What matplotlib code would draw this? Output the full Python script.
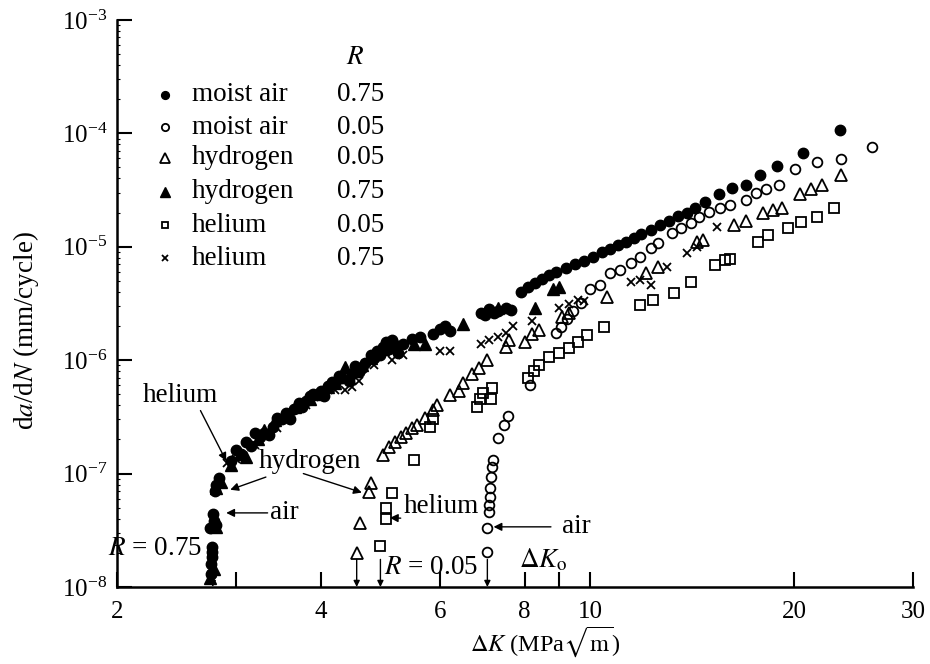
import matplotlib
matplotlib.use("Agg")
import matplotlib.pyplot as plt
from matplotlib.ticker import NullLocator, LogLocator

plt.rcParams['font.family'] = 'serif'
plt.rcParams['font.serif'] = ['Liberation Serif', 'DejaVu Serif']
plt.rcParams['mathtext.fontset'] = 'stix'

# (delta K in MPa sqrt(m), da/dN in mm/cycle)
air75 = [(2.75, 1.3e-8), (2.75, 1.6e-8), (2.76, 1.85e-8), (2.76, 2.05e-8), (2.76, 2.25e-8),
         (2.74, 3.3e-8), (2.78, 3.8e-8), (2.77, 4.4e-8), (2.80, 3.5e-8), (2.79, 7.0e-8),
         (2.80, 8.0e-8), (2.83, 9.2e-8),
         (2.95, 1.3e-7), (3.0, 1.6e-7), (3.05, 1.5e-7), (3.1, 1.9e-7), (3.15, 1.75e-7),
         (3.2, 2.3e-7), (3.25, 2.1e-7), (3.30, 2.3e-7), (3.35, 2.2e-7), (3.40, 2.6e-7),
         (3.45, 3.1e-7), (3.50, 3.0e-7), (3.55, 3.4e-7), (3.6, 3.0e-7), (3.65, 3.7e-7),
         (3.72, 4.2e-7), (3.75, 3.9e-7), (3.80, 4.4e-7), (3.85, 4.8e-7), (3.90, 5.0e-7),
         (4.00, 5.3e-7), (4.05, 4.8e-7), (4.10, 5.9e-7), (4.15, 6.4e-7), (4.20, 6.3e-7),
         (4.25, 7.2e-7), (4.30, 7.0e-7), (4.4, 6.5e-7), (4.45, 7.6e-7), (4.50, 8.8e-7),
         (4.55, 7.8e-7), (4.60, 8.5e-7), (4.65, 9.5e-7), (4.75, 1.1e-6), (4.80, 1.05e-6),
         (4.85, 1.2e-6), (4.9, 1.1e-6), (4.95, 1.3e-6), (5.0, 1.45e-6), (5.05, 1.25e-6),
         (5.1, 1.5e-6), (5.15, 1.35e-6), (5.2, 1.15e-6), (5.30, 1.4e-6), (5.45, 1.55e-6),
         (5.6, 1.6e-6),
         (5.85, 1.7e-6), (6.00, 1.9e-6), (6.10, 2.0e-6), (6.20, 1.8e-6), (6.90, 2.6e-6),
         (7.0, 2.5e-6), (7.10, 2.8e-6), (7.2, 2.6e-6), (7.30, 2.7e-6), (7.50, 2.9e-6),
         (7.65, 2.75e-6),
         (7.90, 4.0e-6), (8.10, 4.4e-6), (8.30, 4.8e-6), (8.50, 5.2e-6), (8.70, 5.6e-6),
         (8.90, 6.0e-6), (9.20, 6.5e-6), (9.50, 7.0e-6), (9.80, 7.5e-6), (10.1, 8.2e-6),
         (10.4, 8.9e-6), (10.7, 9.6e-6), (11.0, 1.03e-5), (11.3, 1.1e-5), (11.6, 1.2e-5),
         (11.9, 1.3e-5), (12.3, 1.4e-5), (12.7, 1.55e-5), (13.1, 1.7e-5), (13.5, 1.85e-5),
         (13.9, 2.0e-5), (14.3, 2.2e-5), (14.8, 2.5e-5),
         (15.5, 2.9e-5), (16.2, 3.3e-5), (17.0, 3.5e-5), (17.8, 4.3e-5), (18.9, 5.1e-5),
         (20.6, 6.7e-5), (23.4, 1.07e-4)]

air05 = [(7.05, 2.05e-8), (7.05, 3.3e-8), (7.1, 4.6e-8), (7.1, 5.3e-8), (7.12, 6.2e-8),
         (7.12, 7.5e-8), (7.15, 9.3e-8), (7.17, 1.14e-7), (7.18, 1.32e-7), (7.3, 2.06e-7),
         (7.45, 2.7e-7), (7.55, 3.2e-7), (8.15, 6.0e-7), (8.9, 1.75e-6), (9.05, 1.95e-6),
         (9.25, 2.3e-6), (9.45, 2.7e-6), (9.7, 3.2e-6), (10.0, 4.2e-6), (10.34, 4.6e-6),
         (10.7, 5.9e-6), (11.07, 6.2e-6), (11.5, 7.2e-6), (11.85, 8.1e-6), (12.3, 9.8e-6),
         (12.6, 1.08e-5), (13.2, 1.32e-5), (13.6, 1.47e-5), (14.1, 1.62e-5), (14.5, 1.83e-5),
         (15.0, 2.03e-5), (15.55, 2.2e-5), (16.1, 2.34e-5), (17.0, 2.6e-5), (17.6, 3.0e-5),
         (18.2, 3.2e-5), (19.0, 3.5e-5), (20.1, 4.8e-5), (21.6, 5.6e-5), (23.5, 5.9e-5),
         (26.1, 7.6e-5)]

hyd05 = [(4.52, 2.0e-8), (4.57, 3.7e-8), (4.72, 6.9e-8), (4.74, 8.3e-8), (4.95, 1.45e-7),
         (5.05, 1.7e-7), (5.15, 1.9e-7), (5.25, 2.1e-7), (5.35, 2.3e-7), (5.45, 2.5e-7),
         (5.55, 2.7e-7), (5.7, 3.1e-7), (5.85, 3.6e-7), (5.95, 4.0e-7), (6.2, 4.9e-7),
         (6.4, 5.4e-7), (6.5, 6.3e-7), (6.7, 7.5e-7), (6.85, 8.6e-7), (7.05, 1.0e-6),
         (7.5, 1.3e-6), (7.6, 1.5e-6), (8.0, 1.45e-6), (8.2, 1.7e-6), (8.4, 1.86e-6),
         (9.1, 2.4e-6), (9.3, 2.6e-6), (10.6, 3.6e-6), (12.1, 5.9e-6), (12.6, 6.6e-6),
         (14.4, 1.1e-5), (14.7, 1.15e-5), (16.3, 1.55e-5), (17.0, 1.7e-5), (18.0, 2.0e-5),
         (18.6, 2.1e-5), (19.2, 2.2e-5), (20.4, 2.9e-5), (21.2, 3.2e-5), (22.0, 3.5e-5),
         (23.5, 4.3e-5)]

hyd75 = [(2.74, 1.2e-8), (2.78, 1.45e-8), (2.8, 3.4e-8), (2.8, 7.5e-8), (2.85, 8.5e-8),
         (2.95, 1.2e-7), (3.04, 1.5e-7), (3.1, 1.4e-7), (3.23, 2.0e-7), (3.3, 2.4e-7),
         (3.42, 2.95e-7), (3.55, 3.3e-7), (3.67, 3.9e-7), (3.86, 4.5e-7), (3.95, 5.0e-7),
         (4.1, 5.8e-7), (4.2, 6.3e-7), (4.35, 8.7e-7), (4.6, 9.0e-7), (4.75, 1.05e-6),
         (4.95, 1.25e-6), (5.5, 1.4e-6), (5.7, 1.4e-6), (6.5, 2.1e-6), (7.3, 2.9e-6),
         (8.3, 2.9e-6), (8.8, 4.2e-6), (9.0, 4.4e-6)]

he05 = [(4.9, 2.3e-8), (5.0, 4.0e-8), (5.0, 5.0e-8), (5.1, 6.8e-8), (5.5, 1.32e-7),
        (5.8, 2.6e-7), (5.85, 3.0e-7), (6.8, 3.9e-7), (6.87, 4.5e-7), (6.95, 5.1e-7),
        (7.15, 4.5e-7), (7.17, 5.7e-7), (8.1, 7.0e-7), (8.25, 8.0e-7), (8.4, 9.0e-7),
        (8.7, 1.07e-6), (9.0, 1.16e-6), (9.3, 1.28e-6), (9.6, 1.45e-6), (9.9, 1.66e-6),
        (10.5, 1.96e-6), (11.85, 3.07e-6), (12.4, 3.4e-6), (13.3, 3.9e-6), (14.1, 4.9e-6),
        (15.3, 6.9e-6), (15.8, 7.7e-6), (16.1, 7.8e-6), (17.7, 1.1e-5), (18.3, 1.27e-5),
        (19.6, 1.47e-5), (20.5, 1.66e-5), (21.6, 1.83e-5), (22.9, 2.2e-5)]

he75 = [(2.76, 1.3e-8), (2.91, 1.24e-7), (3.0, 1.35e-7), (3.2, 1.8e-7), (3.45, 2.5e-7),
        (3.6, 3.1e-7), (3.8, 4.0e-7), (4.0, 4.7e-7), (4.2, 5.5e-7), (4.35, 5.5e-7),
        (4.45, 5.8e-7), (4.55, 6.5e-7), (4.8, 9.0e-7), (5.1, 1.0e-6), (5.3, 1.1e-6),
        (6.0, 1.2e-6), (6.2, 1.2e-6), (6.9, 1.4e-6), (7.1, 1.5e-6), (7.3, 1.6e-6),
        (7.5, 1.75e-6), (7.7, 2.0e-6), (8.2, 2.2e-6), (9.0, 2.9e-6), (9.3, 3.1e-6),
        (9.6, 3.4e-6), (9.8, 3.3e-6), (11.5, 4.9e-6), (11.85, 5.1e-6), (12.3, 4.6e-6),
        (13.0, 6.6e-6), (13.9, 8.8e-6), (14.4, 1.0e-5), (15.4, 1.48e-5)]

thresholds = [2.77, 4.52, 4.9, 7.05]

series = [
    ('moist air', '0.75', air75, dict(marker='o', ms=7.5, mfc='black', mec='black')),
    ('moist air', '0.05', air05, dict(marker='o', ms=7, mfc='none', mec='black', mew=1.3)),
    ('hydrogen', '0.05', hyd05, dict(marker='^', ms=9, mfc='none', mec='black', mew=1.3)),
    ('hydrogen', '0.75', hyd75, dict(marker='^', ms=9, mfc='black', mec='black')),
    ('helium', '0.05', he05, dict(marker='s', ms=6.5, mfc='none', mec='black', mew=1.3)),
    ('helium', '0.75', he75, dict(marker='x', ms=6, mec='black', mew=1.3)),
]

fs = 19.5

fig = plt.figure(figsize=(9.3, 6.64), dpi=100)
ax = fig.add_axes([0.1258, 0.116, 0.856, 0.854])
ax.set_xscale('log')
ax.set_yscale('log')
ax.set_xlim(2, 30)
ax.set_ylim(1e-8, 1e-3)

for name, r, pts, style in series:
    ks = [p[0] for p in pts]
    rates = [p[1] for p in pts]
    ax.plot(ks, rates, linestyle='none', clip_on=False, **style)

# legend drawn by hand (name column + R column)
ax.text(0.299, 0.933, '$R$', transform=ax.transAxes, ha='center', va='center', fontsize=fs)
row_y = [0.868, 0.811, 0.757, 0.697, 0.638, 0.580]
for (name, r, pts, style), yy in zip(series, row_y):
    st = dict(style)
    st['ms'] = st['ms'] * 0.75
    ax.plot([0.0603], [yy], transform=ax.transAxes, linestyle='none', clip_on=False, **st)
    ax.text(0.0942, yy, name, transform=ax.transAxes, va='center', fontsize=fs)
    ax.text(0.2764, yy, r, transform=ax.transAxes, va='center', fontsize=fs)

arrow = dict(arrowstyle='-|>', color='black', lw=1.0, mutation_scale=12, shrinkA=0, shrinkB=0)
ax.annotate('helium', xy=(2.9, 1.29e-7), xytext=(2.48, 4.9e-7), fontsize=fs,
            ha='center', va='center', arrowprops=dict(arrow, relpos=(0.75, 0.0)))
ax.annotate('hydrogen', xy=(2.94, 7.2e-8), xytext=(3.85, 1.27e-7), fontsize=fs,
            ha='center', va='center', arrowprops=dict(arrow, relpos=(0.15, 0.0)))
ax.annotate('', xy=(4.6, 6.8e-8), xytext=(3.77, 1.0e-7), arrowprops=arrow)
ax.annotate('air', xy=(2.9, 4.5e-8), xytext=(3.37, 4.5e-8), fontsize=fs,
            ha='left', va='center', arrowprops=dict(arrow, relpos=(0.0, 0.5)))
ax.annotate('helium', xy=(5.06, 4.07e-8), xytext=(5.3, 5.1e-8), fontsize=fs,
            ha='left', va='center', arrowprops=dict(arrow, relpos=(0.45, 0.0)))
ax.annotate('air', xy=(7.2, 3.39e-8), xytext=(9.1, 3.39e-8), fontsize=fs,
            ha='left', va='center', arrowprops=dict(arrow, relpos=(-0.4, 0.5)))

ax.text(2.67, 2.2e-8, '$R$ = 0.75', fontsize=fs, ha='right', va='center', clip_on=False)
ax.text(4.96, 1.5e-8, '$R$ = 0.05', fontsize=fs, ha='left', va='center')
ax.text(7.85, 1.74e-8, r'$\Delta K_{\mathrm{o}}$', fontsize=fs, ha='left', va='center')

for k in thresholds:
    ax.annotate('', xy=(k, 1.0e-8), xytext=(k, 1.75e-8),
                arrowprops=dict(arrowstyle='-|>', color='black', lw=1.0,
                                mutation_scale=9, shrinkA=0, shrinkB=0))

# axes styling
for s in ['top', 'right']:
    ax.spines[s].set_visible(False)
for s in ['left', 'bottom']:
    ax.spines[s].set_linewidth(1.8)

ax.set_xticks([2, 3, 4, 6, 8, 9, 10, 20, 30])
ax.set_xticklabels(['2', '', '4', '6', '8', '', '10', '20', '30'])
ax.xaxis.set_minor_locator(NullLocator())
ax.yaxis.set_major_locator(LogLocator(base=10, numticks=10))
ax.yaxis.set_minor_locator(LogLocator(base=10, subs=range(2, 10), numticks=20))
ax.tick_params(axis='both', which='major', direction='in', length=11, width=1.5,
               labelsize=18)
ax.tick_params(axis='x', which='major', pad=10)
ax.tick_params(axis='y', which='major', pad=7)
ax.tick_params(axis='y', which='minor', direction='in', length=2, width=0.8)
ax.tick_params(axis='y', which='minor', labelleft=False)

ax.set_xlabel(r'$\Delta K$ (MPa$\sqrt{\mathrm{m}}$)', fontsize=17.5)
ax.xaxis.set_label_coords(0.538, -0.066)
ax.set_ylabel(r'd$a$/d$N$ (mm/cycle)', fontsize=fs)
ax.yaxis.set_label_coords(-0.095, 0.453)

fig.savefig('out.png', dpi=100)
